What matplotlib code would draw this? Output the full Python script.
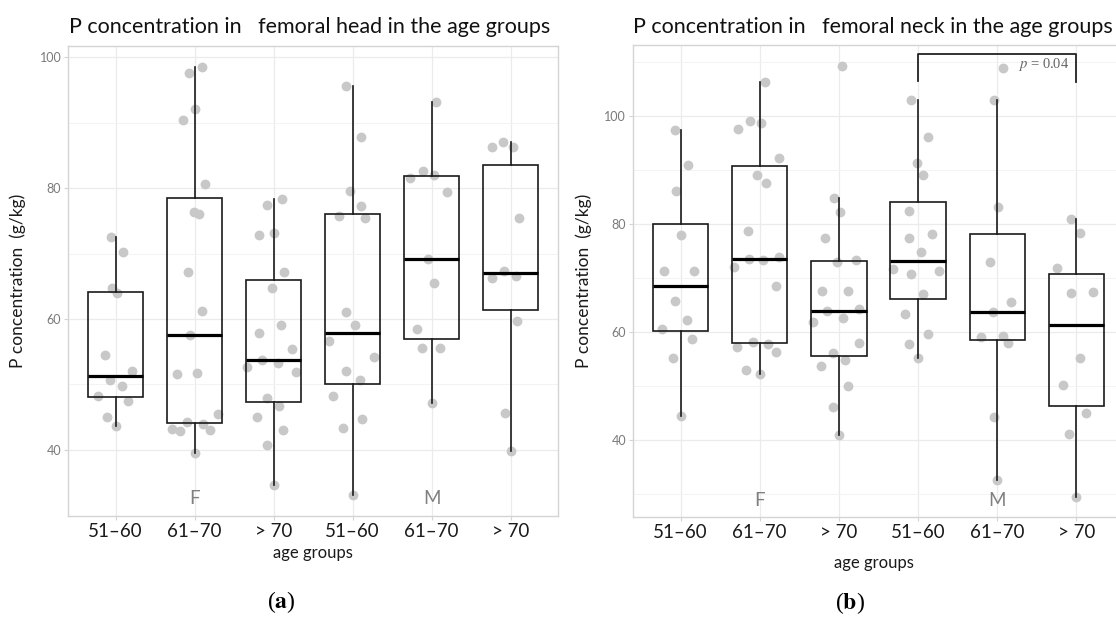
import numpy as np
import matplotlib.pyplot as plt

plt.rcParams['font.family'] = ['Lato', 'DejaVu Sans']
plt.rcParams['mathtext.fontset'] = 'stix'

# categories
age_groups = ['51–60', '61–70', '> 70', '51–60', '61–70', '> 70']
sex_labels = ['F', 'M']

# (a) femoral head, g/kg, one list per group (F 51-60 ... M >70)
head_values = [
    [72.5, 70.2, 64.8, 63.9, 54.5, 52.0, 50.6, 49.8, 48.2, 47.5, 45.1, 43.7],
    [97.5, 98.5, 92.0, 90.4, 80.6, 76.3, 76.1, 67.1, 61.2, 57.5, 51.6, 51.7,
     45.5, 44.2, 43.9, 43.2, 42.9, 43.0, 39.6],
    [78.4, 77.4, 72.9, 73.2, 67.1, 64.7, 59.1, 57.9, 55.4, 53.8, 53.3, 52.6,
     51.9, 47.9, 46.7, 45.0, 43.0, 40.8, 34.7],
    [95.6, 87.8, 79.5, 77.2, 75.7, 75.4, 61.1, 59.1, 56.7, 54.2, 52.1, 50.6,
     48.3, 44.7, 43.4, 33.1],
    [93.1, 81.6, 82.6, 82.0, 79.4, 69.2, 65.5, 58.4, 55.6, 55.6, 47.2],
    [86.2, 87.1, 86.2, 75.5, 67.4, 66.2, 66.5, 59.7, 45.6, 39.9],
]
head_jitter = [
    [-0.06, 0.09, -0.05, 0.02, -0.13, 0.21, -0.07, 0.08, -0.23, 0.16, -0.11, 0.0],
    [-0.07, 0.09, 0.01, -0.15, 0.13, -0.01, 0.06, -0.08, 0.09, -0.06, -0.23, 0.03,
     0.29, -0.10, 0.10, -0.29, -0.19, 0.20, 0.0],
    [0.10, -0.09, -0.19, 0.01, 0.13, -0.02, 0.09, -0.18, 0.23, -0.15, 0.05, -0.34,
     0.28, -0.08, 0.07, -0.21, 0.12, -0.09, 0.0],
    [-0.09, 0.10, -0.03, 0.10, -0.17, 0.16, -0.09, 0.03, -0.30, 0.27, -0.09, 0.09,
     -0.25, 0.12, -0.12, 0.0],
    [0.05, -0.27, -0.11, 0.03, 0.20, -0.04, 0.03, -0.18, -0.12, 0.11, 0.0],
    [-0.23, -0.10, 0.03, 0.10, -0.08, -0.23, 0.07, 0.08, -0.07, 0.0],
]

# (b) femoral neck, g/kg
neck_values = [
    [97.3, 90.9, 86.0, 77.9, 71.2, 71.2, 65.6, 62.2, 60.5, 58.7, 55.1, 44.3],
    [106.3, 97.5, 99.0, 98.6, 92.2, 89.0, 87.5, 78.6, 73.5, 73.3, 73.8, 71.9,
     68.5, 58.1, 57.7, 57.2, 56.2, 52.9, 52.2],
    [109.2, 84.7, 82.2, 77.4, 72.9, 73.3, 67.5, 67.5, 63.8, 64.1, 61.7, 62.6,
     57.9, 56.1, 54.8, 53.6, 50.0, 46.0, 40.9],
    [102.9, 96.1, 91.2, 89.0, 82.3, 78.0, 77.3, 74.7, 71.6, 71.3, 70.7, 67.0,
     63.3, 59.5, 57.7, 55.1],
    [108.8, 102.9, 83.1, 72.9, 65.4, 63.6, 59.2, 59.0, 57.9, 44.2, 32.6],
    [80.9, 78.3, 71.7, 67.2, 67.3, 55.1, 50.1, 45.0, 41.1, 29.4],
]
neck_jitter = [
    [-0.07, 0.09, -0.06, 0.01, -0.21, 0.17, -0.07, 0.08, -0.24, 0.15, -0.10, 0.0],
    [0.07, -0.27, -0.12, 0.02, 0.24, -0.03, 0.08, -0.15, -0.14, 0.04, 0.24, -0.33,
     0.21, -0.09, 0.10, -0.29, 0.20, -0.17, 0.0],
    [0.04, -0.06, 0.01, -0.17, -0.03, 0.21, -0.21, 0.12, -0.15, 0.25, -0.33, 0.05,
     0.25, -0.08, 0.08, -0.23, 0.11, -0.08, 0.0],
    [-0.09, 0.12, -0.02, 0.06, -0.11, 0.17, -0.11, 0.04, -0.32, 0.27, -0.09, 0.06,
     -0.17, 0.12, -0.12, 0.0],
    [0.07, -0.04, 0.01, -0.09, 0.17, -0.06, 0.07, -0.21, 0.14, -0.04, 0.0],
    [-0.07, 0.04, -0.25, -0.07, 0.21, 0.04, -0.17, 0.12, -0.10, 0.0],
]

p_text = r'$p$ = 0.04'

GRID = '#ebebeb'
FRAME = '#d4d4d4'


def draw_panel(ax, values, jitter, ylim, yticks, minor_ticks, sex_y):
    pos = np.arange(1, len(values) + 1)
    for i in range(len(values)):
        ax.scatter(pos[i] + np.array(jitter[i]), values[i], s=50,
                   color='#c8c8c8', lw=0, zorder=2)
    ax.boxplot(values, positions=pos, widths=0.7, showfliers=False,
               showcaps=False, patch_artist=True, zorder=3,
               boxprops=dict(facecolor='none', edgecolor='#1a1a1a', lw=1.2),
               medianprops=dict(color='black', lw=2.3),
               whiskerprops=dict(color='#1a1a1a', lw=1.2))
    ax.set_xlim(0.4, 6.6)
    ax.set_ylim(*ylim)
    ax.set_xticks(pos)
    ax.set_xticklabels(age_groups, fontsize=13.5, color='#1a1a1a')
    ax.set_yticks(yticks)
    ax.set_yticks(minor_ticks, minor=True)
    ax.tick_params(axis='y', which='major', labelsize=9, labelcolor='#7a7a7a',
                   color=FRAME, length=3, pad=2)
    ax.tick_params(axis='y', which='minor', length=0)
    ax.tick_params(axis='x', color=FRAME, length=3, pad=2)
    ax.set_axisbelow(True)
    ax.grid(True, which='major', color=GRID, lw=0.9)
    ax.grid(True, which='minor', axis='y', color='#f3f3f3', lw=0.7)
    for sp in ax.spines.values():
        sp.set_color(FRAME)
        sp.set_linewidth(1.0)
    ax.set_ylabel('P concentration  (g/kg)', fontsize=12.5, color='#1a1a1a')
    for x, lab in zip([2, 5], sex_labels):
        ax.text(x, sex_y, lab, ha='center', va='center', fontsize=13.5,
                color='#808080')


fig = plt.figure(figsize=(11.16, 6.17), dpi=100)
ax_a = fig.add_axes([68.3 / 1116, 101 / 617, 489.7 / 1116, 470 / 617])
ax_b = fig.add_axes([633 / 1116, 99.7 / 617, 491 / 1116, 472.3 / 617])

draw_panel(ax_a, head_values, head_jitter, (29.9, 101.7),
           [40, 60, 80, 100], [50, 70, 90], 32.5)
draw_panel(ax_b, neck_values, neck_jitter, (25.6, 113.1),
           [40, 60, 80, 100], [30, 50, 70, 90, 110], 28.7)

ax_a.yaxis.set_label_coords(-0.086, 0.5)
ax_b.yaxis.set_label_coords(-0.083, 0.5)
ax_a.text(0.5, -0.079, 'age groups', transform=ax_a.transAxes, ha='center',
          va='center', fontsize=12, color='#1a1a1a')
ax_b.text(0.49, -0.096, 'age groups', transform=ax_b.transAxes, ha='center',
          va='center', fontsize=12, color='#1a1a1a')

# significance bracket between M 51-60 and M >70
ax_b.plot([4, 4, 6, 6], [106.4, 111.4, 111.4, 106.3], color='#222222', lw=1.3,
          zorder=4)
ax_b.text(5.91, 109.4, p_text, ha='right', va='center', fontsize=10.5,
          color='#666666', family='Liberation Serif')

fig.text(68.6 / 1116, 1 - 27 / 617, 'P concentration in   femoral head in the age groups',
         ha='left', va='center', fontsize=15.5, color='#111111')
fig.text(633 / 1116, 1 - 27 / 617, 'P concentration in   femoral neck in the age groups',
         ha='left', va='center', fontsize=15.5, color='#111111')

fig.text(281.7 / 1116, 1 - 601.7 / 617, r'($\mathbf{a}$)', ha='center', va='center',
         fontsize=17, family='Liberation Serif')
fig.text(850 / 1116, 1 - 603 / 617, r'($\mathbf{b}$)', ha='center', va='center',
         fontsize=17, family='Liberation Serif')

fig.savefig('out.png', dpi=100)
